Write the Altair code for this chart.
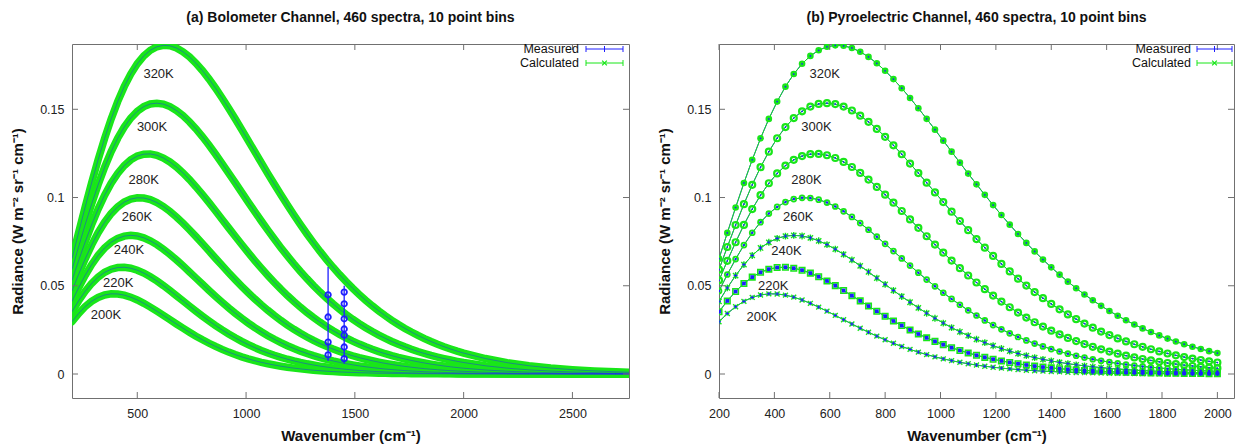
import altair as alt
import pandas as pd

# ---------------- data ----------------
WAVENUMBER = [200, 230, 260, 290, 320, 350, 380, 410, 440, 470,
              500, 530, 560, 590, 620, 650, 680, 710, 740, 770,
              800, 830, 860, 890, 920, 950, 980, 1010, 1040, 1070,
              1100, 1130, 1160, 1190, 1220, 1250, 1280, 1310, 1340, 1370,
              1400, 1430, 1460, 1490, 1520, 1550, 1580, 1610, 1640, 1670,
              1700, 1730, 1760, 1790, 1820, 1850, 1880, 1910, 1940, 1970, 2000]
WAVENUMBER_EXT = [2100, 2200, 2300, 2400, 2500, 2600, 2700, 2760]

TEMPS = ["320K", "300K", "280K", "260K", "240K", "220K", "200K"]

RAD_320 = [0.06536, 0.07995, 0.09435, 0.10824, 0.12137, 0.13353, 0.14456, 0.15435, 0.16284, 0.16998,
           0.17578, 0.18026, 0.18345, 0.18542, 0.18623, 0.18598, 0.18474, 0.18261, 0.17969, 0.17607,
           0.17184, 0.16710, 0.16193, 0.15640, 0.15060, 0.14460, 0.13846, 0.13224, 0.12599, 0.11975,
           0.11357, 0.10749, 0.10153, 0.09571, 0.09007, 0.08461, 0.07935, 0.07430, 0.06946, 0.06484,
           0.06045, 0.05628, 0.05233, 0.04859, 0.04507, 0.04176, 0.03864, 0.03572, 0.03299, 0.03044,
           0.02805, 0.02583, 0.02377, 0.02185, 0.02006, 0.01841, 0.01689, 0.01547, 0.01417, 0.01296, 0.01185]
RAD_320_EXT = [0.00875, 0.00642, 0.00468, 0.00339, 0.00244, 0.00175, 0.00125, 0.00102]

RAD_300 = [0.05920, 0.07198, 0.08442, 0.09625, 0.10722, 0.11718, 0.12600, 0.13360, 0.13994, 0.14503,
           0.14887, 0.15152, 0.15303, 0.15347, 0.15294, 0.15153, 0.14931, 0.14640, 0.14289, 0.13886,
           0.13440, 0.12960, 0.12453, 0.11926, 0.11386, 0.10839, 0.10289, 0.09742, 0.09201, 0.08670,
           0.08151, 0.07647, 0.07159, 0.06690, 0.06240, 0.05810, 0.05401, 0.05012, 0.04644, 0.04297,
           0.03971, 0.03664, 0.03376, 0.03107, 0.02857, 0.02623, 0.02406, 0.02204, 0.02017, 0.01844,
           0.01685, 0.01538, 0.01402, 0.01277, 0.01163, 0.01057, 0.00961, 0.00873, 0.00792, 0.00718, 0.00651]
RAD_300_EXT = [0.00466, 0.00332, 0.00235, 0.00165, 0.00116, 0.00080, 0.00056, 0.00045]

RAD_280 = [0.05309, 0.06411, 0.07466, 0.08450, 0.09343, 0.10131, 0.10808, 0.11367, 0.11808, 0.12134,
           0.12349, 0.12459, 0.12472, 0.12396, 0.12241, 0.12017, 0.11731, 0.11395, 0.11016, 0.10603,
           0.10164, 0.09706, 0.09236, 0.08759, 0.08281, 0.07805, 0.07336, 0.06877, 0.06430, 0.05998,
           0.05583, 0.05185, 0.04806, 0.04445, 0.04104, 0.03783, 0.03481, 0.03198, 0.02933, 0.02686,
           0.02457, 0.02244, 0.02047, 0.01865, 0.01697, 0.01542, 0.01400, 0.01269, 0.01150, 0.01041,
           0.00941, 0.00850, 0.00767, 0.00692, 0.00623, 0.00561, 0.00505, 0.00454, 0.00407, 0.00366, 0.00328]
RAD_280_EXT = [0.00227, 0.00156, 0.00107, 0.00073, 0.00049, 0.00033, 0.00022, 0.00017]

RAD_260 = [0.04707, 0.05637, 0.06510, 0.07304, 0.08005, 0.08602, 0.09091, 0.09470, 0.09742, 0.09912,
           0.09986, 0.09972, 0.09879, 0.09715, 0.09492, 0.09217, 0.08901, 0.08551, 0.08175, 0.07781,
           0.07376, 0.06964, 0.06552, 0.06143, 0.05741, 0.05349, 0.04970, 0.04605, 0.04256, 0.03924,
           0.03610, 0.03314, 0.03035, 0.02775, 0.02532, 0.02307, 0.02098, 0.01904, 0.01726, 0.01563,
           0.01412, 0.01275, 0.01149, 0.01035, 0.00930, 0.00836, 0.00750, 0.00672, 0.00601, 0.00538,
           0.00481, 0.00429, 0.00383, 0.00341, 0.00304, 0.00270, 0.00240, 0.00213, 0.00189, 0.00168, 0.00149]
RAD_260_EXT = [0.00099, 0.00066, 0.00043, 0.00028, 0.00018, 0.00012, 0.00008, 0.00006]

RAD_240 = [0.04113, 0.04879, 0.05579, 0.06195, 0.06718, 0.07141, 0.07463, 0.07686, 0.07815, 0.07858,
           0.07822, 0.07716, 0.07549, 0.07332, 0.07073, 0.06781, 0.06464, 0.06129, 0.05783, 0.05432,
           0.05081, 0.04734, 0.04394, 0.04065, 0.03748, 0.03445, 0.03158, 0.02886, 0.02631, 0.02393,
           0.02172, 0.01966, 0.01777, 0.01602, 0.01442, 0.01296, 0.01162, 0.01041, 0.00930, 0.00831,
           0.00740, 0.00659, 0.00586, 0.00520, 0.00461, 0.00409, 0.00362, 0.00320, 0.00282, 0.00249,
           0.00219, 0.00193, 0.00170, 0.00149, 0.00131, 0.00115, 0.00101, 0.00088, 0.00077, 0.00068, 0.00059]
RAD_240_EXT = [0.00038, 0.00024, 0.00015, 0.00009, 0.00006, 0.00004, 0.00002, 0.00002]

RAD_220 = [0.03531, 0.04140, 0.04677, 0.05130, 0.05491, 0.05761, 0.05940, 0.06034, 0.06050, 0.05996,
           0.05882, 0.05718, 0.05511, 0.05272, 0.05009, 0.04729, 0.04438, 0.04143, 0.03849, 0.03558,
           0.03276, 0.03004, 0.02744, 0.02498, 0.02266, 0.02050, 0.01849, 0.01663, 0.01492, 0.01335,
           0.01192, 0.01062, 0.00944, 0.00837, 0.00741, 0.00655, 0.00578, 0.00510, 0.00448, 0.00394,
           0.00345, 0.00302, 0.00264, 0.00231, 0.00202, 0.00176, 0.00153, 0.00133, 0.00116, 0.00100,
           0.00087, 0.00075, 0.00065, 0.00056, 0.00049, 0.00042, 0.00036, 0.00031, 0.00027, 0.00023, 0.00020]
RAD_220_EXT = [0.00012, 0.00007, 0.00004, 0.00003, 0.00001, 0.00001, 0.00001, 0.0]

RAD_200 = [0.02963, 0.03425, 0.03812, 0.04118, 0.04339, 0.04479, 0.04542, 0.04536, 0.04470, 0.04354,
           0.04195, 0.04005, 0.03791, 0.03560, 0.03320, 0.03076, 0.02833, 0.02595, 0.02365, 0.02145,
           0.01937, 0.01742, 0.01561, 0.01394, 0.01240, 0.01100, 0.00973, 0.00858, 0.00755, 0.00663,
           0.00580, 0.00507, 0.00442, 0.00384, 0.00334, 0.00289, 0.00250, 0.00216, 0.00187, 0.00161,
           0.00138, 0.00119, 0.00102, 0.00087, 0.00075, 0.00064, 0.00054, 0.00046, 0.00040, 0.00034,
           0.00029, 0.00024, 0.00021, 0.00018, 0.00015, 0.00013, 0.00011, 0.00009, 0.00008, 0.00006, 0.00005]
RAD_200_EXT = [0.00003, 0.00002, 0.00001, 0.00001, 0.0, 0.0, 0.0, 0.0]

# bolometer measured glitches (blue spikes near 1380 and 1450 cm-1)
GLITCH_WN = [1377, 1377, 1377, 1377, 1451, 1451, 1451, 1451, 1451, 1451, 1451]
GLITCH_RAD = [0.0449, 0.0323, 0.0181, 0.0108, 0.0464, 0.0398, 0.0313, 0.0255, 0.0153, 0.0087, 0.0220]
GLITCH_SEG_WN = [1377, 1451]
GLITCH_SEG_TOP = [0.0606, 0.0500]
GLITCH_SEG_BOTTOM = [0.0075, 0.0060]

XTICKS_A = [500, 1000, 1500, 2000, 2500]
XTICKS_B = [200, 400, 600, 800, 1000, 1200, 1400, 1600, 1800, 2000]
YTICKS = [0, 0.05, 0.1, 0.15]

LABEL_WN_A = [598, 568, 530, 499, 462, 412, 356]
LABEL_RAD_A = [0.170, 0.140, 0.110, 0.089, 0.0702, 0.0515, 0.0334]
LABEL_WN_B = [582, 552, 516, 486, 444, 396, 354]
LABEL_RAD_B = [0.170, 0.140, 0.110, 0.089, 0.0695, 0.0498, 0.0323]

LEGEND = ["Measured", "Calculated"]

# ---------------- tables ----------------
SERIES = {"320K": (RAD_320, RAD_320_EXT), "300K": (RAD_300, RAD_300_EXT),
          "280K": (RAD_280, RAD_280_EXT), "260K": (RAD_260, RAD_260_EXT),
          "240K": (RAD_240, RAD_240_EXT), "220K": (RAD_220, RAD_220_EXT),
          "200K": (RAD_200, RAD_200_EXT)}
rows = []
for t, (main, ext) in SERIES.items():
    assert len(main) == len(WAVENUMBER), t
    assert len(ext) == len(WAVENUMBER_EXT), t
    for w, r in zip(WAVENUMBER, main):
        rows.append({"T": t, "wn": w, "rad": r, "part": "main"})
    for w, r in zip(WAVENUMBER_EXT, ext):
        rows.append({"T": t, "wn": w, "rad": r, "part": "ext"})
df_all = pd.DataFrame(rows)
df_b = df_all[df_all["part"] == "main"]

df_glitch = pd.DataFrame({"wn": GLITCH_WN, "rad": GLITCH_RAD})
df_gseg = pd.DataFrame({"wn": GLITCH_SEG_WN, "top": GLITCH_SEG_TOP, "bottom": GLITCH_SEG_BOTTOM})
df_lab_a = pd.DataFrame({"T": TEMPS, "wn": LABEL_WN_A, "rad": LABEL_RAD_A})
df_lab_b = pd.DataFrame({"T": TEMPS, "wn": LABEL_WN_B, "rad": LABEL_RAD_B})

# ---------------- style ----------------
GREEN = "#19e619"
BLUE = "#1e1eff"
FRAME = "#707070"
FONT = "Liberation Sans"
H = 354
W_A, W_B = 557, 515
YS = alt.Scale(domain=[-0.0136, 0.187], nice=False, zero=False, padding=0)
XS_A = alt.Scale(domain=[200, 2760], nice=False, zero=False, padding=0)
XS_B = alt.Scale(domain=[200, 2060], nice=False, zero=False, padding=0)
XTITLE = "Wavenumber (cm⁻¹)"
YTITLE = "Radiance (W m⁻² sr⁻¹ cm⁻¹)"


def x_axis(ticks):
    return alt.Axis(values=ticks, format="d", title=XTITLE, tickSize=0, domain=False, grid=False,
                    labelFlush=False, labelPadding=9, titlePadding=9, labelFontSize=12.5,
                    titleFontSize=15, titleFontWeight="bold")


Y_AXIS = alt.Axis(values=YTICKS, format="~g", title=YTITLE, tickSize=0, domain=False, grid=False,
                  labelFlush=False, labelPadding=8, titlePadding=14, labelFontSize=12.5,
                  titleFontSize=15, titleFontWeight="bold")


class Panel:
    def __init__(self, xs, xticks, w):
        self.xs, self.xticks, self.w = xs, xticks, w

    def X(self, field):
        return alt.X(field, scale=self.xs, axis=x_axis(self.xticks))

    def Y(self, field):
        return alt.Y(field, scale=YS, axis=Y_AXIS)


def frame_ticks(p):
    dx = pd.DataFrame({"wn": p.xticks})
    dy = pd.DataFrame({"rad": YTICKS})
    bottom = alt.Chart(dx).mark_rule(color=FRAME).encode(
        x=p.X("wn:Q"), y=alt.value(H), y2=alt.value(H - 6))
    top = alt.Chart(dx).mark_rule(color=FRAME).encode(
        x=p.X("wn:Q"), y=alt.value(0), y2=alt.value(6))
    left = alt.Chart(dy).mark_rule(color=FRAME).encode(
        y=p.Y("rad:Q"), x=alt.value(0), x2=alt.value(6))
    right = alt.Chart(dy).mark_rule(color=FRAME).encode(
        y=p.Y("rad:Q"), x=alt.value(p.w), x2=alt.value(p.w - 6))
    return [bottom, top, left, right]


def legend_layers(text_x, line_x0, line_x1):
    one = pd.DataFrame({"k": [0]})
    mid = (line_x0 + line_x1) / 2
    out = []
    for i, (lab, col) in enumerate(zip(LEGEND, [BLUE, GREEN])):
        yy = 5 + 14 * i
        out.append(alt.Chart(pd.DataFrame({"label": [lab]})).mark_text(
            align="right", baseline="middle", font=FONT, fontSize=12.5, color="#111").encode(
            text="label:N", x=alt.value(text_x), y=alt.value(yy)))
        out.append(alt.Chart(one).mark_rule(color=col, strokeWidth=1).encode(
            x=alt.value(line_x0), x2=alt.value(line_x1), y=alt.value(yy)))
        for xx in (line_x0, line_x1):
            out.append(alt.Chart(one).mark_rule(color=col, strokeWidth=1).encode(
                x=alt.value(xx), y=alt.value(yy - 3), y2=alt.value(yy + 3)))
        if i == 0:
            out.append(alt.Chart(one).mark_rule(color=col, strokeWidth=1).encode(
                x=alt.value(mid), y=alt.value(yy - 3), y2=alt.value(yy + 3)))
        else:
            out.append(alt.Chart(one).mark_point(
                shape="M-1,-1L1,1M1,-1L-1,1", size=22, color=col, strokeWidth=1.3,
                filled=False, opacity=1).encode(x=alt.value(mid), y=alt.value(yy)))
    return out


def curve_labels(df, p):
    return alt.Chart(df).mark_text(font=FONT, fontSize=13, color="#222", baseline="middle").encode(
        x=p.X("wn:Q"), y=p.Y("rad:Q"), text="T:N")


TITLE_KW = dict(fontSize=14, fontWeight="bold", font=FONT, color="#111", anchor="middle", offset=18)

# ---------------- panel (a) ----------------
PA = Panel(XS_A, XTICKS_A, W_A)
band = alt.Chart(df_all).mark_line(color=GREEN, strokeWidth=7.5, clip=True, strokeCap="round").encode(
    x=PA.X("wn:Q"), y=PA.Y("rad:Q"), detail="T:N", order="wn:Q")
meas_a = alt.Chart(df_all).mark_line(color=BLUE, strokeWidth=1, opacity=0.45, clip=True).encode(
    x=PA.X("wn:Q"), y=PA.Y("rad:Q"), detail="T:N", order="wn:Q")
gseg = alt.Chart(df_gseg).mark_rule(color=BLUE, strokeWidth=1.3).encode(
    x=PA.X("wn:Q"), y=PA.Y("top:Q"), y2="bottom:Q")
gpts = alt.Chart(df_glitch).mark_point(color=BLUE, filled=False, strokeWidth=1.8, size=30, opacity=1).encode(
    x=PA.X("wn:Q"), y=PA.Y("rad:Q"))

panel_a = alt.layer(
    band, meas_a, gseg, gpts, curve_labels(df_lab_a, PA),
    *frame_ticks(PA),
    *legend_layers(507, 514, 551),
).properties(width=W_A, height=H,
             title=alt.TitleParams("(a) Bolometer Channel, 460 spectra, 10 point bins", **TITLE_KW))

# ---------------- panel (b) ----------------
PB = Panel(XS_B, XTICKS_B, W_B)
XPATH = "M-1,-1L1,1M1,-1L-1,1"
STAR = "M-1,-1L1,1M1,-1L-1,1M0,-1.3L0,1.3"
PLUS = "M-1,0L1,0M0,-1L0,1"


def pts(temps, shape, size, color, filled, sw=1.0):
    sub = df_b[df_b["T"].isin(temps)]
    kw = dict(shape=shape, size=size, color=color, filled=filled, opacity=1, clip=True)
    if not filled:
        kw["strokeWidth"] = sw
    return alt.Chart(sub).mark_point(**kw).encode(x=PB.X("wn:Q"), y=PB.Y("rad:Q"))


line_b_blue = alt.Chart(df_b).mark_line(color=BLUE, strokeWidth=1, clip=True).encode(
    x=PB.X("wn:Q"), y=PB.Y("rad:Q"), detail="T:N", order="wn:Q")
line_b_green = alt.Chart(df_b).mark_line(color=GREEN, strokeWidth=1, clip=True).encode(
    x=PB.X("wn:Q"), y=PB.Y("rad:Q"), detail="T:N", order="wn:Q")

markers_b = [
    pts(["320K"], "circle", 44, GREEN, True),
    pts(["300K", "280K"], "circle", 36, GREEN, False, 2.2),
    pts(["260K"], "circle", 24, GREEN, False, 1.8),
    pts(["240K"], STAR, 28, GREEN, False, 1.4),
    pts(["220K"], "square", 30, GREEN, False, 1.6),
    pts(["200K"], XPATH, 24, GREEN, False, 1.4),
    pts(["320K", "300K", "280K"], "circle", 3, BLUE, True),
    pts(["260K"], "circle", 6, BLUE, True),
    pts(["240K", "200K"], PLUS, 16, BLUE, False, 1.0),
    pts(["220K"], "square", 14, BLUE, True),
]

panel_b = alt.layer(
    line_b_blue, line_b_green, *markers_b, curve_labels(df_lab_b, PB),
    *frame_ticks(PB),
    *legend_layers(472, 478, 513),
).properties(width=W_B, height=H,
             title=alt.TitleParams("(b) Pyroelectric Channel, 460 spectra, 10 point bins", **TITLE_KW))

chart = alt.hconcat(panel_a, panel_b, spacing=27).properties(
    padding={"left": 2, "top": 2, "right": 5, "bottom": 0}
).configure_view(stroke=FRAME, strokeWidth=1).configure_axis(
    labelFont=FONT, titleFont=FONT, labelColor="#222", titleColor="#111"
).configure_concat(spacing=27)

chart.save("out.html", embed_options={"renderer": "svg", "actions": False})
